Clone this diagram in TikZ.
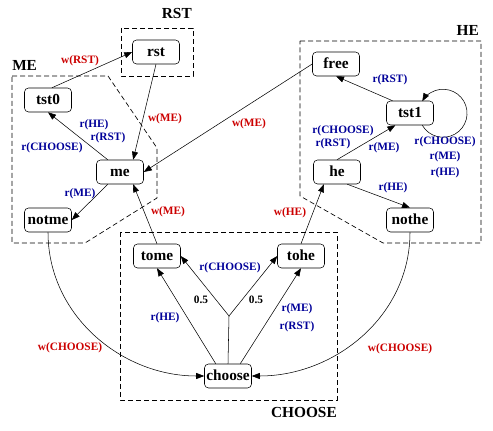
\documentclass[tikz,border=0pt]{standalone}
\usepackage{fontspec}
\setmainfont{Liberation Serif}
\usepackage{tikz}
\usepackage{xcolor}
\usetikzlibrary{arrows.meta, positioning, calc}
\definecolor{wred}{RGB}{204,0,0}
\definecolor{rblue}{RGB}{0,0,153}

\begin{document}
\begin{tikzpicture}[
    x=0.75pt, y=0.75pt,
    stbox/.style={draw, rounded corners=3pt, minimum width=35.25pt, minimum height=18pt, inner sep=1pt, text height=0.68em, text depth=0.05em, font=\bfseries\fontsize{11.5}{13}\selectfont},
    lbl/.style={font=\bfseries\fontsize{8.5}{9}\selectfont, inner sep=0pt, align=center},
    wlbl/.style={lbl, text=wred},
    rlbl/.style={lbl, text=rblue},
    region/.style={draw, line width=0.5pt, dash pattern=on 3.75pt off 2.25pt},
    regname/.style={font=\bfseries\fontsize{11.5}{13}\selectfont, inner sep=0pt},
    arr/.style={-{Triangle[length=6pt, width=4.5pt]}}
]
  \useasboundingbox (0,0) rectangle (493,431);

  % Regions (dashed outlines)
  \draw[region] (121,403) rectangle (193,355);
  \draw[region] (12,355) -- (108,355) -- (157,283) -- (157,233) -- (85,188) -- (12,188) -- cycle;
  \draw[region] (300,390) -- (481,390) -- (481,188) -- (383,188) -- (300,235) -- cycle;
  \draw[region] (120,199) rectangle (337,31);
  \node[regname, anchor=east] (rstname) at (192,417) {RST};
  \node[regname, anchor=west] (mename) at (12,366) {ME};
  \node[regname, anchor=east] (hename) at (479,401) {HE};
  \node[regname, anchor=east] (choosename) at (337,18) {CHOOSE};

  % States
  \node[stbox] (rst) at (156,379) {rst};
  \node[stbox] (tst0) at (48,331) {tst0};
  \node[stbox] (me) at (120,259) {me};
  \node[stbox] (notme) at (48,211) {notme};
  \node[stbox] (tome) at (157,175) {tome};
  \node[stbox] (tohe) at (301,175) {tohe};
  \node[stbox] (choose) at (228,55) {choose};
  \node[stbox] (free) at (336,367) {free};
  \node[stbox] (tst1) at (410,318) {tst1};
  \node[stbox] (he) at (337,259) {he};
  \node[stbox] (nothe) at (410,211) {nothe};
  \coordinate (branch) at (229,115);

  % Transitions
  \draw[arr] (tst0.72) -- (rst.west);
  \draw[arr] (rst.south) -- (me.43);
  \draw[arr] (me.135) -- (tst0.south);
  \draw[arr] (me.225) -- (notme.east);
  \draw[arr] (free.west) -- (me.east);
  \draw[arr] (tome.north) -- (me.317);
  \draw[arr] (tst1.145) -- (free.south);
  \draw[arr] (he.north) -- (tst1.220);
  \draw[arr] (he.310) -- (nothe.north);
  \draw[arr] (tohe.north) -- (he.223);
  \draw[arr] (tst1.-45) arc[start angle=210, end angle=510, radius=24];
  \draw[arr] (notme.south) to[out=-90, in=180] (choose.west);
  \draw[arr] (nothe.south) to[out=-90, in=0] (choose.east);
  \draw[arr] (choose.135) -- (tome.south);
  \draw[arr] (choose.45) -- (tohe.south);
  \draw (choose.north) -- (branch);
  \draw[arr] (branch) -- (tome.east);
  \draw[arr] (branch) -- (tohe.west);

  % Labels
  \node[wlbl] (l1) at (80,370) {w(RST)};
  \node[rlbl] (l2) at (94,306) {r(HE)};
  \node[rlbl] (l3) at (108,293) {r(RST)};
  \node[rlbl] (l4) at (52,283) {r(CHOOSE)};
  \node[wlbl] (l5) at (165,312) {w(ME)};
  \node[wlbl] (l6) at (249,307) {w(ME)};
  \node[rlbl] (l7) at (80,237) {r(ME)};
  \node[wlbl] (l8) at (168,219) {w(ME)};
  \node[wlbl] (l9) at (290,218) {w(HE)};
  \node[rlbl] (l10) at (393,243) {r(HE)};
  \node[rlbl] (l11) at (390,351) {r(RST)};
  \node[rlbl] (l12) at (343,300) {r(CHOOSE)};
  \node[rlbl] (l13) at (333,287) {r(RST)};
  \node[rlbl] (l14) at (384,283) {r(ME)};
  \node[rlbl] (l15) at (445,274) {r(CHOOSE)\\[2.6pt]r(ME)\\[2.6pt]r(HE)};
  \node[wlbl] (l16) at (70,83) {w(CHOOSE)};
  \node[wlbl] (l17) at (400,82) {w(CHOOSE)};
  \node[rlbl] (l18) at (165,113) {r(HE)};
  \node[rlbl] (l19) at (230,163) {r(CHOOSE)};
  \node[lbl] (l20) at (201,131) {0.5};
  \node[lbl] (l21) at (256,131) {0.5};
  \node[rlbl] (l22) at (297,113) {r(ME)\\[4.5pt]r(RST)};

\end{tikzpicture}
\end{document}
